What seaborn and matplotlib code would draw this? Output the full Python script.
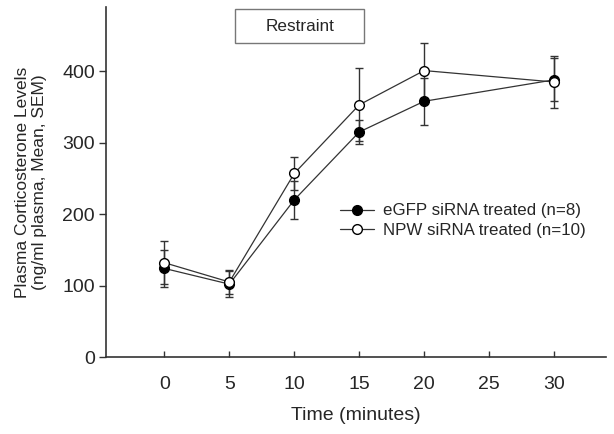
import numpy as np
import pandas as pd
import matplotlib
matplotlib.use('Agg')
import matplotlib.pyplot as plt
import seaborn as sns
from matplotlib.patches import Rectangle

sns.set_style('white')
plt.rcParams['font.family'] = ['Liberation Sans', 'DejaVu Sans']

# data
time_min = [0, 5, 10, 15, 20, 30]
egfp_mean = [124, 102, 220, 315, 358, 388]
egfp_sem = [26, 18, 27, 17, 33, 30]
npw_mean = [132, 105, 257, 353, 401, 385]
npw_sem = [30, 17, 23, 51, 39, 37]
xticks = [0, 5, 10, 15, 20, 25, 30]
yticks = [0, 100, 200, 300, 400]

df = pd.DataFrame({
    'time': time_min * 2,
    'level': egfp_mean + npw_mean,
    'sem': egfp_sem + npw_sem,
    'group': ['eGFP siRNA treated (n=8)'] * 6 + ['NPW siRNA treated (n=10)'] * 6,
})

fig = plt.figure(figsize=(6.14, 4.34), dpi=100)
ax = fig.add_axes([0.1726, 0.1774, 0.8143, 0.8065])

line_col = '#333333'
styles = {
    'eGFP siRNA treated (n=8)': 'black',
    'NPW siRNA treated (n=10)': 'white',
}

for g, face in styles.items():
    sub = df[df['group'] == g]
    ax.errorbar(sub['time'], sub['level'], yerr=sub['sem'], fmt='none',
                ecolor=line_col, elinewidth=1.0, capsize=3, capthick=1.0, zorder=2)
    sns.lineplot(data=sub, x='time', y='level', ax=ax, color=line_col, lw=0.9,
                 marker='o', markersize=7, markerfacecolor=face,
                 markeredgecolor='black', markeredgewidth=1.0,
                 label=g, zorder=3)

# restraint box
ax.add_patch(Rectangle((5.45, 439), 9.95, 47.5, facecolor='white',
                       edgecolor='#777777', lw=1.0, zorder=1, clip_on=False))
ax.text(10.42, 462, 'Restraint', ha='center', va='center', fontsize=12.3)

ax.set_xlim(-4.5, 34)
ax.set_ylim(0, 490)
ax.set_xticks(xticks)
ax.set_yticks(yticks)
ax.tick_params(axis='x', direction='in', length=4, width=1, color=line_col,
               labelsize=14, pad=14, bottom=True)
ax.tick_params(axis='y', direction='out', length=5, width=1, color=line_col,
               labelsize=14, pad=3, left=True)

for s in ['top', 'right']:
    ax.spines[s].set_visible(False)
for s in ['left', 'bottom']:
    ax.spines[s].set_color(line_col)
    ax.spines[s].set_linewidth(1.2)

ax.set_xlabel('Time (minutes)', fontsize=14, labelpad=10)
ax.set_ylabel('Plasma Corticosterone Levels\n(ng/ml plasma, Mean, SEM)',
              fontsize=12.5, labelpad=11, linespacing=1.15)

ax.legend(loc='upper left', bbox_to_anchor=(0.455, 0.458), frameon=False,
          fontsize=12.2, handlelength=2.0, handletextpad=0.5, labelspacing=0.25,
          borderaxespad=0)

fig.savefig('out.png', dpi=100)
